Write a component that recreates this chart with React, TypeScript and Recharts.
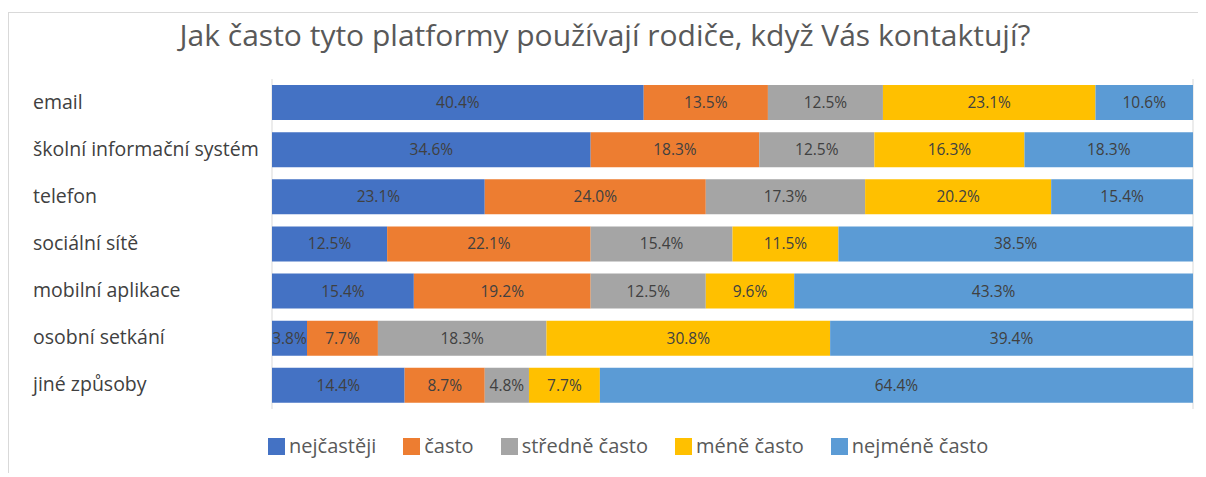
import React from 'react';
import { BarChart, Bar, XAxis, YAxis, CartesianGrid, Legend, LabelList } from 'recharts';

const categories = [
  'email',
  'školní informační systém',
  'telefon',
  'sociální sítě',
  'mobilní aplikace',
  'osobní setkání',
  'jiné způsoby',
];
const seriesNames = ['nejčastěji', 'často', 'středně často', 'méně často', 'nejméně často'];
const nejcasteji = [40.4, 34.6, 23.1, 12.5, 15.4, 3.8, 14.4];
const casto = [13.5, 18.3, 24.0, 22.1, 19.2, 7.7, 8.7];
const stredneCasto = [12.5, 12.5, 17.3, 15.4, 12.5, 18.3, 4.8];
const meneCasto = [23.1, 16.3, 20.2, 11.5, 9.6, 30.8, 7.7];
const nejmeneCasto = [10.6, 18.3, 15.4, 38.5, 43.3, 39.4, 64.4];
const xTicks = [0, 0.2, 0.4, 0.6, 0.8, 1];

const colors = ['#4472C4', '#ED7D31', '#A5A5A5', '#FFC000', '#5B9BD5'];
const keys = ['s0', 's1', 's2', 's3', 's4'];
const series = [nejcasteji, casto, stredneCasto, meneCasto, nejmeneCasto];

const data = categories.map((name, i) => {
  const row: Record<string, any> = { name };
  series.forEach((s, j) => {
    row[keys[j]] = s[i];
  });
  return row;
});

const FONT = '"Open Sans", "Noto Sans", sans-serif';

const CategoryTick = (props: any) => {
  const { y, payload } = props;
  return (
    <text x={24} y={y} dy={6} textAnchor="start" fill="#404040" fontSize={19.5} fontFamily={FONT}>
      {payload.value}
    </text>
  );
};

const LegendContent = () => (
  <div
    style={{
      display: 'flex',
      height: 63,
      boxSizing: 'border-box',
      paddingTop: 24,
      paddingLeft: 259,
      fontFamily: FONT,
      fontSize: 20,
      lineHeight: '26px',
      color: '#595959',
    }}
  >
    {seriesNames.map((n, i) => (
      <div key={n} style={{ display: 'flex', alignItems: 'center', marginRight: 27, height: 26 }}>
        <span style={{ width: 17, height: 17, background: colors[i], marginRight: 4, display: 'inline-block' }} />
        <span>{n}</span>
      </div>
    ))}
  </div>
);

const App: React.FC = () => {
  return (
    <div style={{ paddingTop: 4 }}>
      <div
        style={{
          position: 'relative',
          width: 1197,
          height: 460,
          borderTop: '1px solid #d9d9d9',
          borderLeft: '1px solid #d9d9d9',
          background: '#fff',
        }}
      >
        <div
          style={{
            position: 'absolute',
            top: 2,
            left: 0,
            width: 1192,
            textAlign: 'center',
            fontFamily: FONT,
            fontSize: 30,
            lineHeight: '40px',
            color: '#595959',
          }}
        >
          Jak často tyto platformy používají rodiče, když Vás kontaktují?
        </div>
        <BarChart
          width={1196}
          height={459}
          data={data}
          layout="vertical"
          stackOffset="expand"
          margin={{ top: 66, right: 12, bottom: 0, left: 0 }}
        >
          <CartesianGrid horizontal={false} stroke="#d9d9d9" />
          <XAxis
            type="number"
            domain={[0, 1]}
            ticks={xTicks}
            axisLine={false}
            tickLine={false}
            tick={false}
            height={0}
          />
          <YAxis
            type="category"
            dataKey="name"
            width={263}
            axisLine={false}
            tickLine={false}
            tick={<CategoryTick />}
          />
          <Legend verticalAlign="bottom" height={63} content={<LegendContent />} />
          {keys.map((k, i) => (
            <Bar key={k} dataKey={k} name={seriesNames[i]} stackId="a" fill={colors[i]} barSize={35} isAnimationActive={false}>
              <LabelList
                dataKey={k}
                position="center"
                fill="#404040"
                fontSize={15.5}
                fontFamily={FONT}
                formatter={(v: any) => `${Number(v).toFixed(1)}%`}
              />
            </Bar>
          ))}
        </BarChart>
      </div>
    </div>
  );
};

export default App;
